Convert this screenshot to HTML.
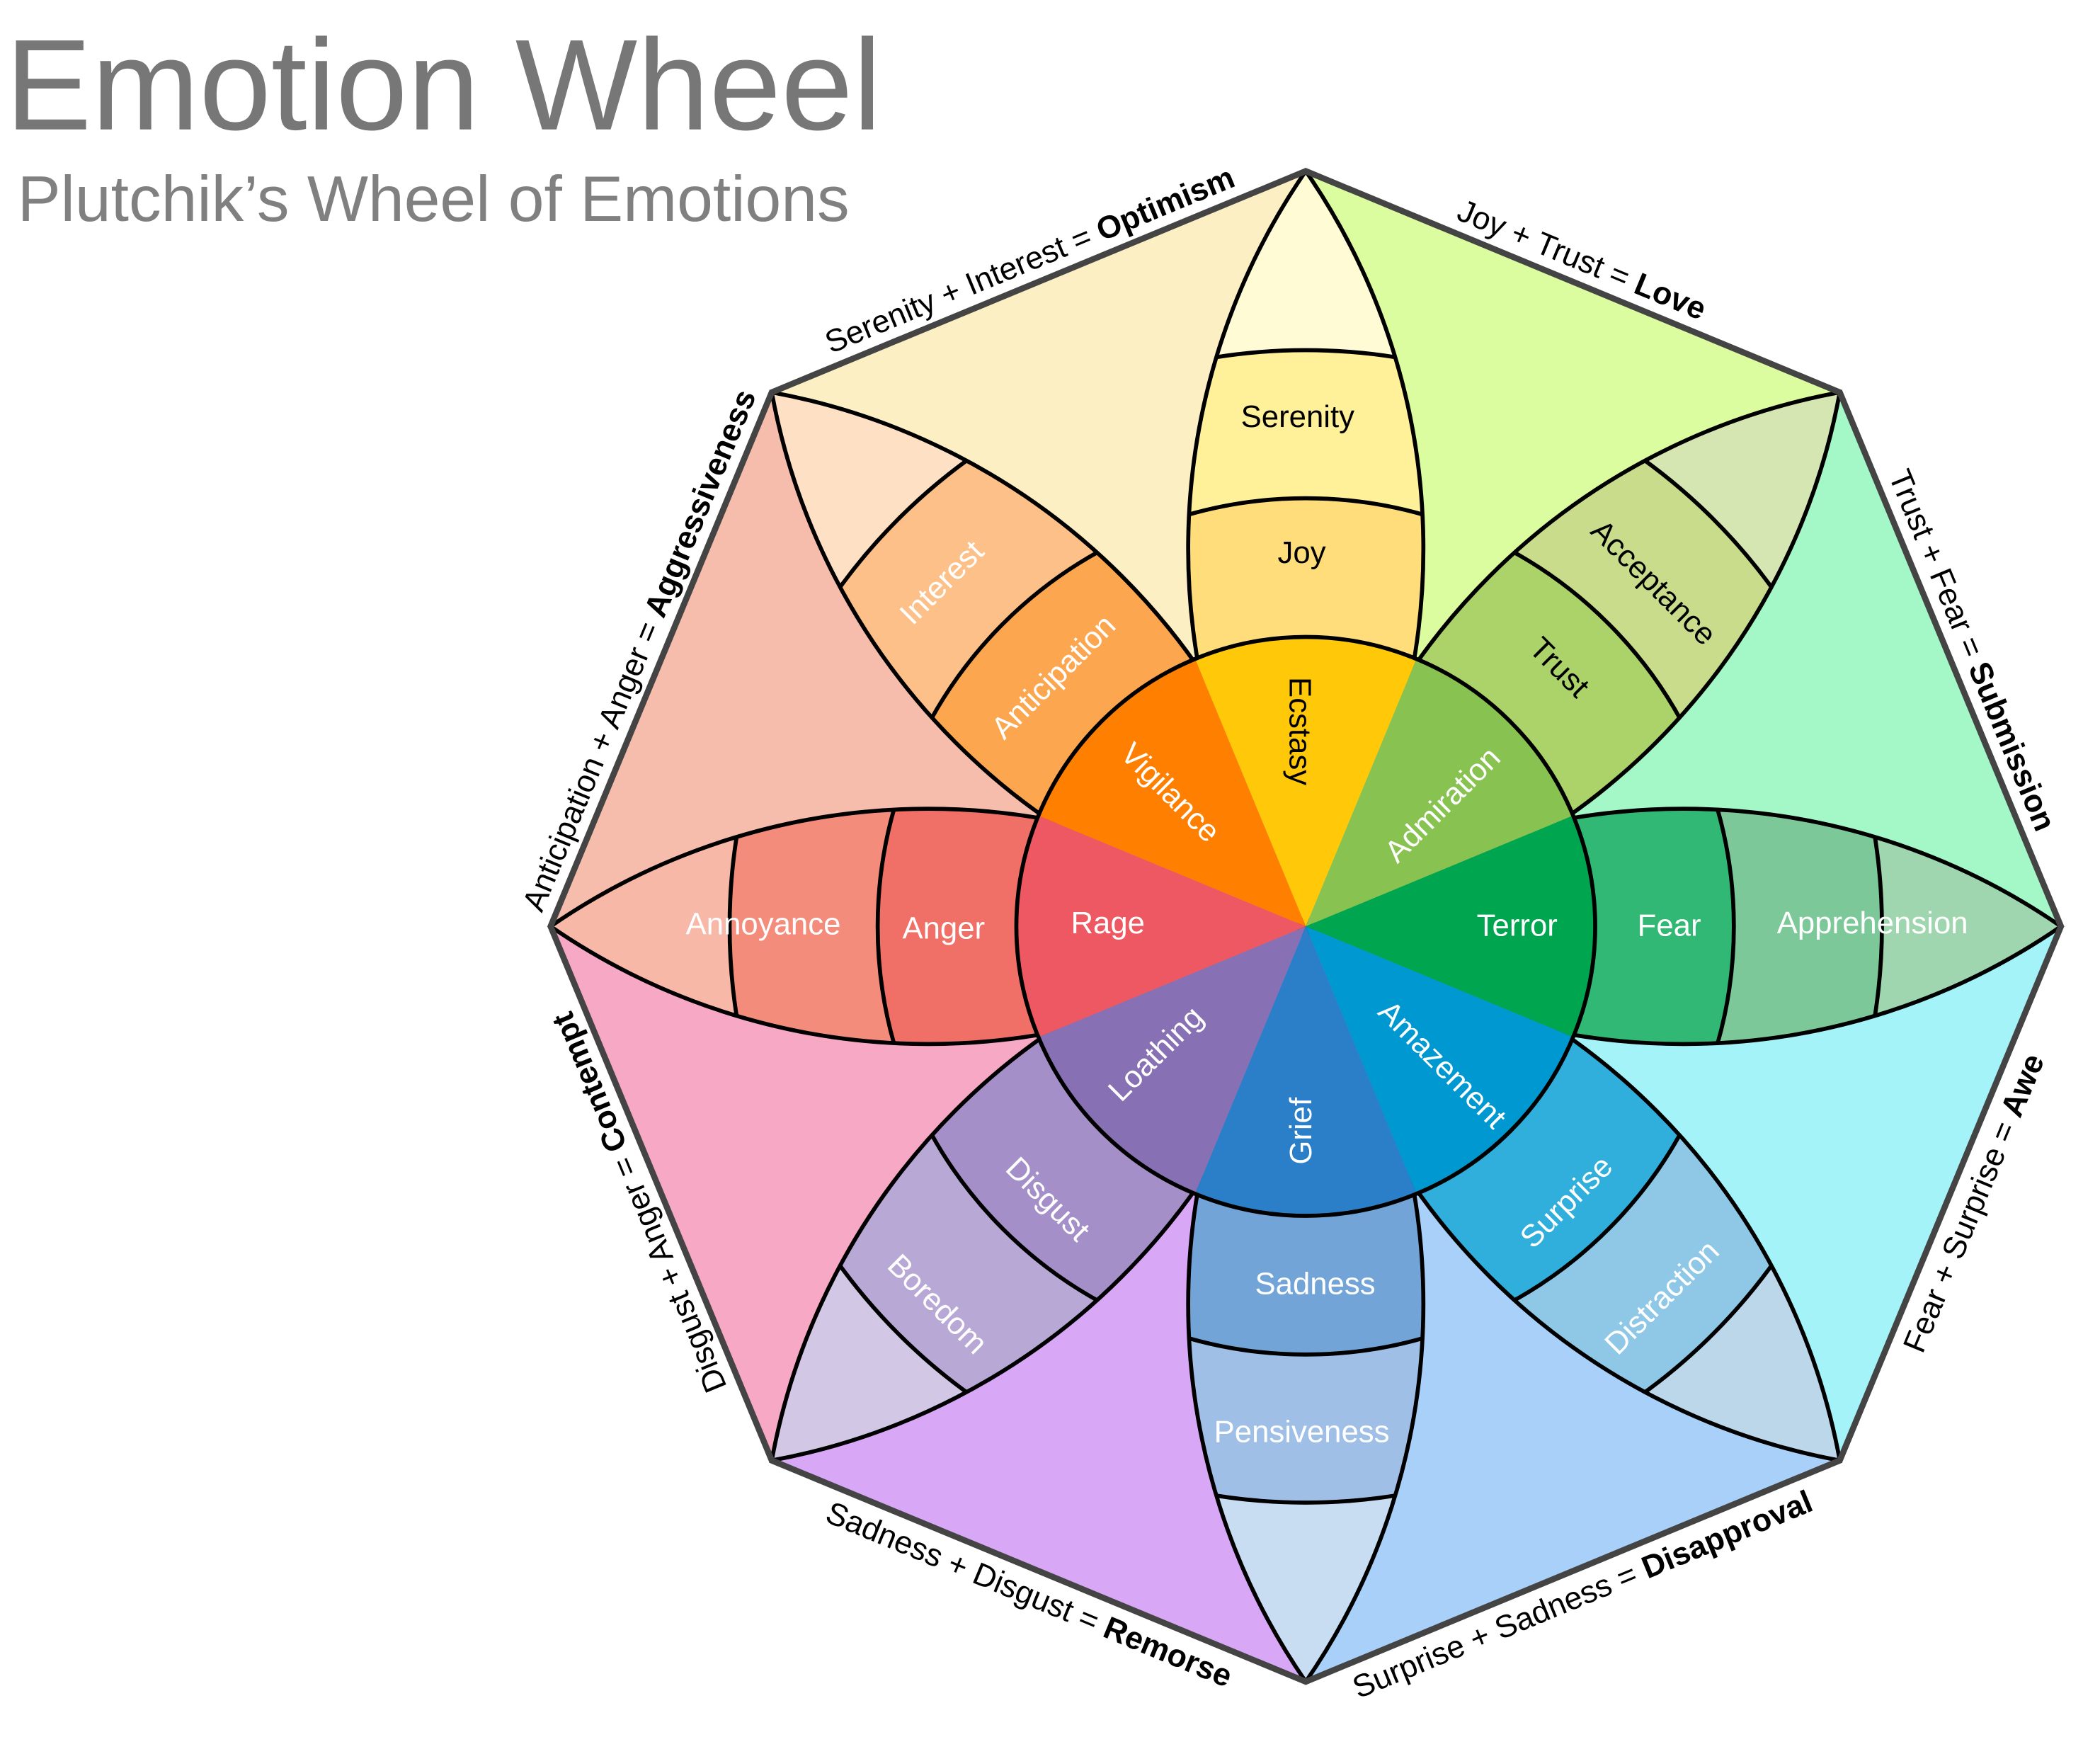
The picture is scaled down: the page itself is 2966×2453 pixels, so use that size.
<!DOCTYPE html>
<html><head><meta charset="utf-8"><style>
html,body{margin:0;padding:0;background:#fff;overflow:hidden;width:2966px;height:2453px;}
svg{display:block;}
</style></head><body>
<svg width="2966" height="2453" viewBox="0 0 1560 1290" xmlns="http://www.w3.org/2000/svg" font-family="Liberation Sans, Arial, sans-serif">
<defs>
<clipPath id="pc"><path d="M970,688 A494,494 0 0 1 970,127 A494,494 0 0 1 970,688 Z"/></clipPath>
</defs>
<rect width="1560" height="1290" fill="#fff"/>
<text x="4" y="96" font-size="96" fill="#777">Emotion Wheel</text>
<text x="13" y="164" font-size="48" fill="#808080">Plutchik’s Wheel of Emotions</text>

<g>
<polygon points="970,688 970,127 1366.7,291.3" fill="#dcfca0" transform="rotate(0 970 688)"/>
<polygon points="970,688 970,127 1366.7,291.3" fill="#a4f7c6" transform="rotate(45 970 688)"/>
<polygon points="970,688 970,127 1366.7,291.3" fill="#a4f3f8" transform="rotate(90 970 688)"/>
<polygon points="970,688 970,127 1366.7,291.3" fill="#a8d0f8" transform="rotate(135 970 688)"/>
<polygon points="970,688 970,127 1366.7,291.3" fill="#d8a8f6" transform="rotate(180 970 688)"/>
<polygon points="970,688 970,127 1366.7,291.3" fill="#f6a8c4" transform="rotate(225 970 688)"/>
<polygon points="970,688 970,127 1366.7,291.3" fill="#f6bcac" transform="rotate(270 970 688)"/>
<polygon points="970,688 970,127 1366.7,291.3" fill="#fdefc4" transform="rotate(315 970 688)"/>
</g>

<g stroke="#000" stroke-width="3">
<g transform="rotate(0 970 688)"><g clip-path="url(#pc)"><rect x="800" y="100" width="340" height="600" fill="#fffbd5"/><circle cx="970" cy="688" r="428" fill="#fff09a"/><circle cx="970" cy="688" r="318" fill="#ffdd7a"/></g><path d="M970,688 A494,494 0 0 1 970,127 A494,494 0 0 1 970,688 Z" fill="none"/></g>
<g transform="rotate(45 970 688)"><g clip-path="url(#pc)"><rect x="800" y="100" width="340" height="600" fill="#d6e6b3"/><circle cx="970" cy="688" r="428" fill="#c8dc8c"/><circle cx="970" cy="688" r="318" fill="#acd26a"/></g><path d="M970,688 A494,494 0 0 1 970,127 A494,494 0 0 1 970,688 Z" fill="none"/></g>
<g transform="rotate(90 970 688)"><g clip-path="url(#pc)"><rect x="800" y="100" width="340" height="600" fill="#a0d6af"/><circle cx="970" cy="688" r="428" fill="#7cc898"/><circle cx="970" cy="688" r="318" fill="#30b874"/></g><path d="M970,688 A494,494 0 0 1 970,127 A494,494 0 0 1 970,688 Z" fill="none"/></g>
<g transform="rotate(135 970 688)"><g clip-path="url(#pc)"><rect x="800" y="100" width="340" height="600" fill="#bcd6ea"/><circle cx="970" cy="688" r="428" fill="#8ec8e6"/><circle cx="970" cy="688" r="318" fill="#30aedc"/></g><path d="M970,688 A494,494 0 0 1 970,127 A494,494 0 0 1 970,688 Z" fill="none"/></g>
<g transform="rotate(180 970 688)"><g clip-path="url(#pc)"><rect x="800" y="100" width="340" height="600" fill="#c8dcf2"/><circle cx="970" cy="688" r="428" fill="#a0bfe6"/><circle cx="970" cy="688" r="318" fill="#72a4d8"/></g><path d="M970,688 A494,494 0 0 1 970,127 A494,494 0 0 1 970,688 Z" fill="none"/></g>
<g transform="rotate(225 970 688)"><g clip-path="url(#pc)"><rect x="800" y="100" width="340" height="600" fill="#d2c8e6"/><circle cx="970" cy="688" r="428" fill="#b8a8d6"/><circle cx="970" cy="688" r="318" fill="#a48fc8"/></g><path d="M970,688 A494,494 0 0 1 970,127 A494,494 0 0 1 970,688 Z" fill="none"/></g>
<g transform="rotate(270 970 688)"><g clip-path="url(#pc)"><rect x="800" y="100" width="340" height="600" fill="#f8b8a8"/><circle cx="970" cy="688" r="428" fill="#f48c7c"/><circle cx="970" cy="688" r="318" fill="#f07068"/></g><path d="M970,688 A494,494 0 0 1 970,127 A494,494 0 0 1 970,688 Z" fill="none"/></g>
<g transform="rotate(315 970 688)"><g clip-path="url(#pc)"><rect x="800" y="100" width="340" height="600" fill="#fee0c4"/><circle cx="970" cy="688" r="428" fill="#fdc088"/><circle cx="970" cy="688" r="318" fill="#fda650"/></g><path d="M970,688 A494,494 0 0 1 970,127 A494,494 0 0 1 970,688 Z" fill="none"/></g>
</g>

<g>
<path d="M970,688 L887.7,489.4 A215,215 0 0 1 1052.3,489.4 Z" fill="#ffc90a" transform="rotate(0 970 688)"/>
<path d="M970,688 L887.7,489.4 A215,215 0 0 1 1052.3,489.4 Z" fill="#88c250" transform="rotate(45 970 688)"/>
<path d="M970,688 L887.7,489.4 A215,215 0 0 1 1052.3,489.4 Z" fill="#00a550" transform="rotate(90 970 688)"/>
<path d="M970,688 L887.7,489.4 A215,215 0 0 1 1052.3,489.4 Z" fill="#0098d0" transform="rotate(135 970 688)"/>
<path d="M970,688 L887.7,489.4 A215,215 0 0 1 1052.3,489.4 Z" fill="#2a7fc8" transform="rotate(180 970 688)"/>
<path d="M970,688 L887.7,489.4 A215,215 0 0 1 1052.3,489.4 Z" fill="#8870b4" transform="rotate(225 970 688)"/>
<path d="M970,688 L887.7,489.4 A215,215 0 0 1 1052.3,489.4 Z" fill="#ee5862" transform="rotate(270 970 688)"/>
<path d="M970,688 L887.7,489.4 A215,215 0 0 1 1052.3,489.4 Z" fill="#ff7f00" transform="rotate(315 970 688)"/>
<circle cx="970" cy="688" r="215" fill="none" stroke="#000" stroke-width="3"/>
</g>

<polygon points="970,127 1366.7,291.3 1531,688 1366.7,1084.7 970,1249 573.3,1084.7 409,688 573.3,291.3" fill="none" stroke="#444" stroke-width="4.5" stroke-linejoin="round"/>

<g font-size="23" text-anchor="middle">
<text x="964" y="317">Serenity</text>
<text x="967" y="418">Joy</text>
<text transform="translate(958,543) rotate(90)">Ecstasy</text>
<text transform="translate(1223,438) rotate(45)">Acceptance</text>
<text transform="translate(1153,501) rotate(45)">Trust</text>
<text transform="translate(1077,603) rotate(-45)" fill="#fff">Admiration</text>
<g fill="#fff">
<text x="1391" y="693">Apprehension</text>
<text x="1240" y="695">Fear</text>
<text x="1127" y="695">Terror</text>
<text transform="translate(1240,969) rotate(-45)">Distraction</text>
<text transform="translate(1169,898) rotate(-45)">Surprise</text>
<text transform="translate(1066,796) rotate(45)">Amazement</text>
<text x="967" y="1071">Pensiveness</text>
<text x="977" y="961">Sadness</text>
<text transform="translate(974,840) rotate(-90)">Grief</text>
<text transform="translate(691,974) rotate(45)">Boredom</text>
<text transform="translate(773,896) rotate(45)">Disgust</text>
<text transform="translate(864,788) rotate(-45)">Loathing</text>
<text x="567" y="694">Annoyance</text>
<text x="701" y="697">Anger</text>
<text x="823" y="693">Rage</text>
<text transform="translate(705,438) rotate(-45)">Interest</text>
<text transform="translate(788,508) rotate(-45)">Anticipation</text>
<text transform="translate(864,594) rotate(45)">Vigilance</text>
</g>
</g>

<g font-size="23.5" text-anchor="middle" fill="#000">
<text transform="rotate(22.5 970 688) translate(970,160)">Joy + Trust = <tspan font-weight="bold">Love</tspan></text>
<text transform="rotate(67.5 970 688) translate(970,160)">Trust + Fear = <tspan font-weight="bold">Submission</tspan></text>
<text transform="rotate(-67.5 970 688) translate(970,1233)">Fear + Surprise = <tspan font-weight="bold">Awe</tspan></text>
<text transform="rotate(-22.5 970 688) translate(970,1233)">Surprise + Sadness = <tspan font-weight="bold">Disapproval</tspan></text>
<text transform="rotate(22.5 970 688) translate(970,1233)">Sadness + Disgust = <tspan font-weight="bold">Remorse</tspan></text>
<text transform="rotate(247.5 970 688) translate(970,160)">Disgust + Anger = <tspan font-weight="bold">Contempt</tspan></text>
<text transform="rotate(292.5 970 688) translate(970,160)">Anticipation + Anger = <tspan font-weight="bold">Aggressiveness</tspan></text>
<text transform="rotate(337.5 970 688) translate(970,160)">Serenity + Interest = <tspan font-weight="bold">Optimism</tspan></text>
</g>
</svg>
</body></html>
